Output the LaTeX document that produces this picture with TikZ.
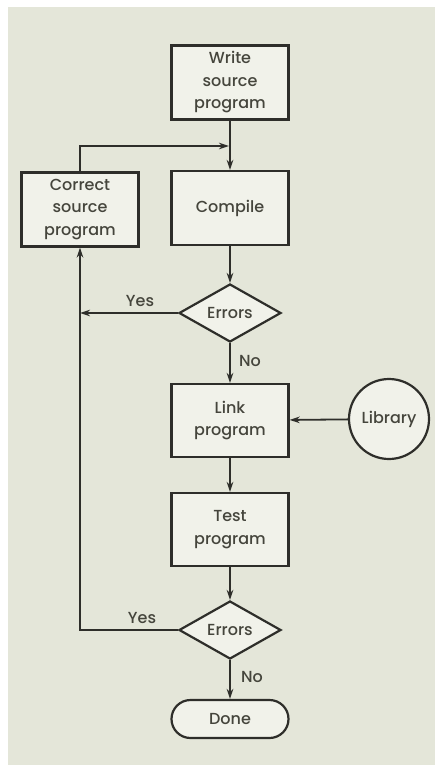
\documentclass[tikz,border=0pt]{standalone}
\usepackage{fontspec}
\setmainfont{Poppins}[UprightFont={* Medium}]
\usetikzlibrary{shapes.geometric,arrows.meta}
\definecolor{bg}{HTML}{E4E6D9}
\definecolor{ink}{HTML}{2E2E2A}
\definecolor{txt}{HTML}{45453C}
\definecolor{boxfill}{HTML}{F1F2EA}
\begin{document}
\begin{tikzpicture}[x=1pt,y=-1pt,
  every node/.style={text=txt,font=\fontsize{16}{22.5}\selectfont},
  procbox/.style={draw=ink,line width=2.2pt,fill=boxfill,minimum width=117pt,minimum height=74pt,align=center,inner sep=0pt},
  decision/.style={draw=ink,line width=2.2pt,fill=boxfill,diamond,aspect=1.75,minimum width=102pt,minimum height=58pt,inner sep=0pt},
  term/.style={draw=ink,line width=2.2pt,fill=boxfill,rounded corners=19pt,minimum width=117pt,minimum height=38pt,inner sep=0pt},
  libcirc/.style={draw=ink,line width=2.2pt,fill=boxfill,circle,minimum size=80pt,inner sep=0pt},
  flow/.style={draw=ink,line width=1.8pt,-{Stealth[length=10pt,width=6.5pt]}},
  lbl/.style={inner sep=0pt}]
\useasboundingbox (0,0) rectangle (435,767);
\fill[bg] (8,7) rectangle (435,765);

\node[procbox] (write) at (230,82.5) {Write\\source\\program};
\node[procbox] (compile) at (230,208) {Compile};
\node[procbox] (correct) at (80,209.5) {Correct\\source\\program};
\node[decision] (err1) at (230,313) {Errors};
\node[procbox,minimum height=73pt] (link) at (230,420.5) {Link\\program};
\node[libcirc] (lib) at (389,419) {Library};
\node[procbox,minimum height=73pt] (test) at (230,529.5) {Test\\program};
\node[decision] (err2) at (230,630) {Errors};
\node[term] (done) at (230,719) {Done};

\coordinate (join) at (230,146);
\coordinate (yes1) at (80,313);
\coordinate (yes2) at (80,630);

\draw[flow] (write) -- (compile);
\draw[flow,shorten >=1pt] (correct.north) |- (join);
\draw[flow] (compile) -- (err1);
\draw[flow] (err1.west) -- (yes1);
\draw[flow] (err1) -- (link);
\draw[flow] (lib) -- (link);
\draw[flow] (link) -- (test);
\draw[flow] (test) -- (err2);
\draw[flow] (err2.west) -- (yes2) -- (correct.south);
\draw[flow] (err2) -- (done);

\node[lbl] (y1) at (140,301) {Yes};
\node[lbl,anchor=west] (n1) at (239,361) {No};
\node[lbl] (y2) at (142,618) {Yes};
\node[lbl,anchor=west] (n2) at (241,677) {No};
\end{tikzpicture}
\end{document}
